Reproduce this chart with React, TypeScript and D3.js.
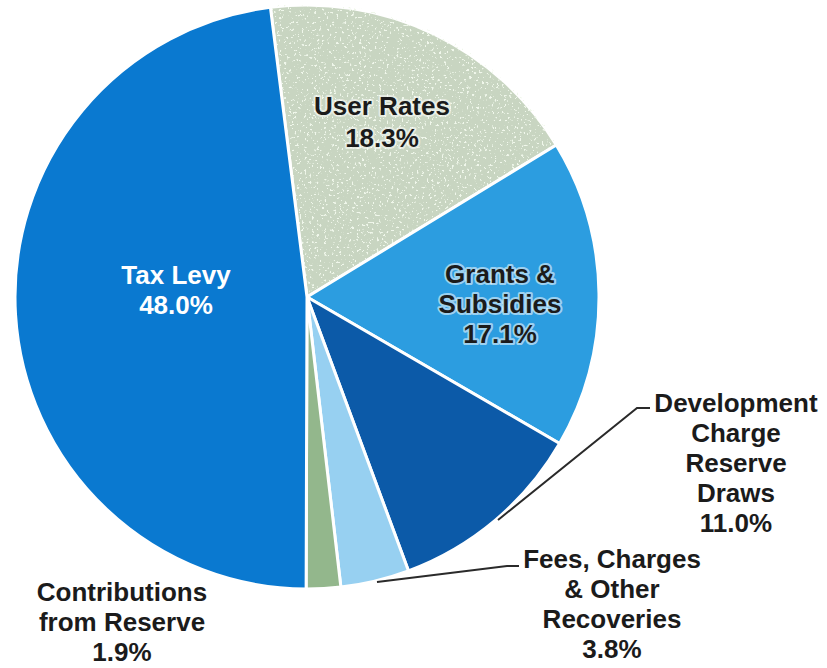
import React from "react";
import * as d3 from "d3";

const categories = [
  "User Rates",
  "Grants & Subsidies",
  "Development Charge Reserve Draws",
  "Fees, Charges & Other Recoveries",
  "Contributions from Reserve",
  "Tax Levy",
];
const values = [18.3, 17.1, 11.0, 3.8, 1.9, 48.0];
const labelLines = [
  ["User Rates", "18.3%"],
  ["Grants &", "Subsidies", "17.1%"],
  ["Development", "Charge", "Reserve", "Draws", "11.0%"],
  ["Fees, Charges", "& Other", "Recoveries", "3.8%"],
  ["Contributions", "from Reserve", "1.9%"],
  ["Tax Levy", "48.0%"],
];

const colors = ["#c8d5c1", "#2c9de0", "#0c5aa8", "#97d0f1", "#93b78c", "#0a79d0"];

// layout (label anchors: x center, first baseline)
const W = 827, H = 668;
const CX = 307, CY = 297, R = 292;
const START_DEG = -7.2;
const layout = [
  { x: 382, y: 115, kind: "in" },
  { x: 500, y: 283, kind: "in" },
  { x: 736, y: 412, kind: "out" },
  { x: 612, y: 568, kind: "out" },
  { x: 122, y: 601, kind: "out" },
  { x: 176, y: 284, kind: "white" },
];
const leaders: Record<number, [number, number][]> = {
  2: [[650, 408], [637, 408], [498, 520]],
  3: [[519, 566], [507, 566], [377, 582]],
};

export default function App() {
  const pie = d3
    .pie<number>()
    .sort(null)
    .value((d) => d)
    .startAngle((START_DEG * Math.PI) / 180)
    .endAngle((START_DEG * Math.PI) / 180 + 2 * Math.PI);
  const arcs = pie(values);
  const arc = d3.arc<d3.PieArcDatum<number>>().innerRadius(0).outerRadius(R);
  const line = d3.line();

  return (
    <svg
      width={W}
      height={H}
      style={{ position: "absolute", left: 0, top: 0, background: "#fff" }}
      fontFamily="'Liberation Sans', Arial, sans-serif"
    >
      <defs>
        <filter id="speckle" x="0" y="0" width="100%" height="100%" colorInterpolationFilters="sRGB">
          <feTurbulence type="fractalNoise" baseFrequency="0.4" numOctaves="2" seed="3" result="noise" />
          <feColorMatrix
            in="noise"
            type="matrix"
            values="0 0 0 0 0.94  0 0 0 0 0.97  0 0 0 0 0.92  14 0 0 0 -8.9"
            result="specks"
          />
          <feComposite in="specks" in2="SourceGraphic" operator="in" result="clipped" />
          <feMerge>
            <feMergeNode in="SourceGraphic" />
            <feMergeNode in="clipped" />
          </feMerge>
        </filter>
      </defs>
      <g transform={`translate(${CX},${CY})`}>
        {arcs.map((a, i) => (
          <path
            key={categories[i]}
            d={arc(a) || ""}
            fill={colors[i]}
            stroke="#fff"
            strokeWidth={3}
            strokeLinejoin="round"
            filter={i === 0 ? "url(#speckle)" : undefined}
          />
        ))}
      </g>
      {Object.entries(leaders).map(([k, pts]) => (
        <path key={k} d={line(pts) || ""} fill="none" stroke="#2a2a2a" strokeWidth={2} />
      ))}
      {labelLines.map((lines, i) => {
        const L = layout[i];
        const isWhite = L.kind === "white";
        const isIn = L.kind === "in";
        return (
          <text
            key={categories[i]}
            x={L.x}
            y={L.y}
            textAnchor="middle"
            fontSize={26}
            fontWeight="bold"
            fill={isWhite ? "#ffffff" : "#1b1b1b"}
            stroke={isIn ? "rgba(255,255,255,0.55)" : "none"}
            strokeWidth={isIn ? 4 : 0}
            strokeLinejoin="round"
            paintOrder="stroke"
          >
            {lines.map((t, j) => (
              <tspan key={j} x={L.x} dy={j === 0 ? 0 : i === 0 ? 32 : 30}>
                {t}
              </tspan>
            ))}
          </text>
        );
      })}
    </svg>
  );
}
